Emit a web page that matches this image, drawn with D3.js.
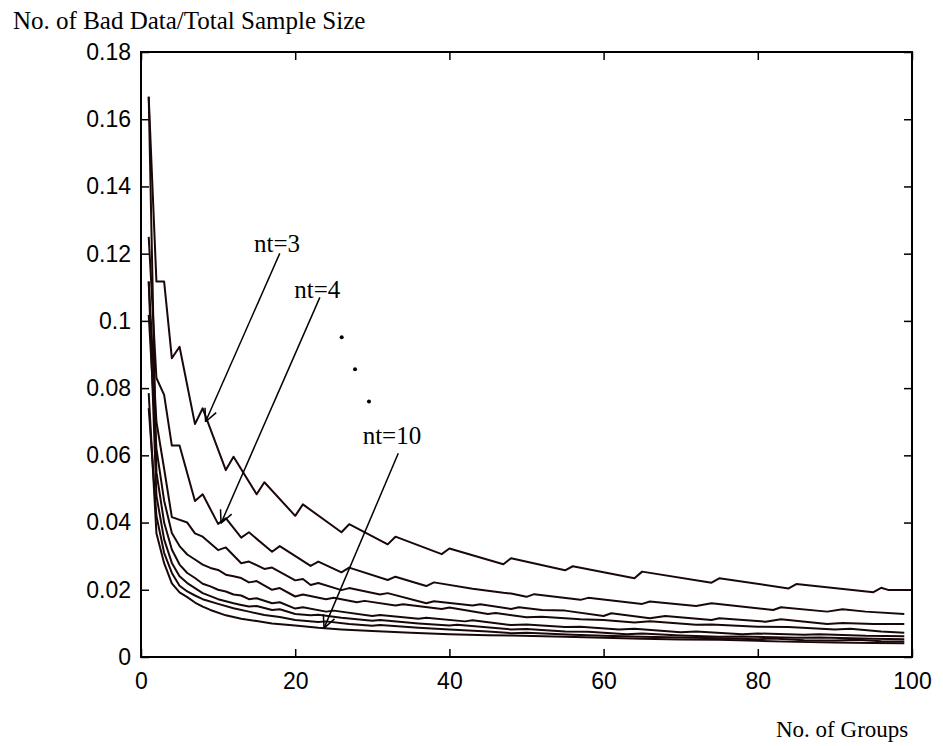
<!DOCTYPE html>
<html>
<head>
<meta charset="utf-8">
<script src="https://cdnjs.cloudflare.com/ajax/libs/d3/7.8.5/d3.min.js"></script>
<style>
  body { margin: 0; background: #fff; }
  .axis text { font-family: "Liberation Sans", Arial, sans-serif; font-size: 23px; fill: #000; }
  .axis line { stroke: #000; stroke-width: 1.5; }
  .axis path { display: none; }
  .note { font-family: "Liberation Serif", "Times New Roman", serif; font-size: 25px; fill: #000; }
</style>
</head>
<body>
<svg id="chart" width="943" height="746"></svg>
<script>
// [group count, bad data / total sample size], one list per nt
var nt3 = [[1,.1667],[2,.1117],[3,.1117],[4,.0889],[5,.0923],[7,.0693],[8,.0740],[11,.0556],[12,.0596],
  [15,.0484],[16,.0520],[20,.0420],[21,.0454],[26,.0371],[27,.0395],[32,.0335],[33,.0358],[39,.0306],
  [40,.0323],[47,.0276],[48,.0294],[55,.0258],[56,.0270],[64,.0234],[65,.0254],[74,.0221],[75,.0234],
  [84,.0204],[85,.0217],[95,.0193],[96,.0206],[97,.0199],[100,.0199]];
var nt4 = [[1,.1250],[2,.0830],[3,.0780],[4,.0629],[5,.0629],[7,.0464],[8,.0484],[10,.0396],[11,.0413],
  [13,.0355],[14,.0371],[17,.0313],[18,.0330],[22,.0271],[23,.0284],[26,.0252],[27,.0266],[32,.0229],
  [33,.0239],[37,.0211],[38,.0222],[43,.0203],[47,.0191],[48,.0189],[50,.0179],[51,.0187],[57,.0170],
  [58,.0176],[65,.0158],[66,.0165],[72,.0152],[74,.0160],[82,.0140],[83,.0148],[89,.0135],[91,.0142],
  [94,.0135],[99,.0128]];
var nt5 = [[1,.1117],[2,.0700],[3,.0560],[4,.0416],[6,.0400],[7,.0368],[8,.0358],[10,.0318],[11,.0326],
  [13,.0279],[14,.0284],[16,.0262],[17,.0266],[20,.0228],[21,.0232],[22,.0214],[23,.0220],[26,.0199],
  [27,.0205],[31,.0186],[32,.0190],[37,.0160],[38,.0166],[43,.0153],[44,.0157],[48,.0143],[49,.0148],
  [52,.0140],[55,.0138],[60,.0122],[61,.0130],[66,.0115],[68,.0122],[74,.0110],[75,.0115],[81,.0105],
  [83,.0112],[89,.0098],[91,.0101],[95,.0098],[99,.0098]];
var nt6 = [[1,.1018],[2,.0620],[3,.0465],[4,.0369],[5,.0330],[6,.0305],[7,.0290],[8,.0275],[9,.0265],
  [10,.0259],[11,.0245],[12,.0240],[13,.0235],[14,.0222],[15,.0226],[17,.0200],[18,.0205],[20,.0180],
  [21,.0186],[24,.0172],[25,.0176],[28,.0163],[29,.0167],[33,.0153],[34,.0157],[39,.0143],[40,.0147],
  [45,.0128],[46,.0131],[50,.0118],[52,.0120],[57,.0112],[60,.0110],[64,.0103],[66,.0106],[72,.0096],
  [74,.0097],[80,.0090],[84,.0089],[90,.0082],[92,.0084],[96,.0076],[99,.0072]];
var nt7 = [[1,.1667],[2,.0550],[3,.0400],[4,.0320],[5,.0275],[6,.0250],[7,.0235],[8,.0218],[9,.0210],
  [10,.0200],[11,.0195],[12,.0186],[13,.0183],[14,.0172],[15,.0175],[17,.0160],[18,.0163],[20,.0144],
  [21,.0148],[24,.0135],[25,.0138],[30,.0122],[31,.0125],[36,.0114],[37,.0117],[42,.0106],[43,.0109],
  [48,.0095],[50,.0097],[55,.0089],[57,.0090],[62,.0082],[64,.0084],[70,.0074],[72,.0076],[78,.0068],
  [80,.0070],[86,.0066],[88,.0068],[94,.0063],[99,.0062]];
var nt8 = [[1,.1117],[2,.0480],[3,.0350],[4,.0280],[5,.0240],[6,.0220],[7,.0205],[8,.0190],[10,.0172],
  [12,.0160],[13,.0155],[14,.0150],[15,.0152],[17,.0140],[18,.0142],[20,.0128],[22,.0124],[23,.0126],
  [26,.0117],[30,.0108],[31,.0110],[36,.0100],[40,.0094],[41,.0096],[48,.0082],[50,.0083],[55,.0076],
  [58,.0075],[63,.0068],[65,.0070],[70,.0064],[75,.0060],[78,.0061],[85,.0057],[88,.0058],[95,.0054],
  [99,.0053]];
var nt9 = [[1,.0740],[2,.0420],[3,.0310],[4,.0250],[5,.0212],[6,.0195],[7,.0183],[8,.0172],[10,.0158],
  [12,.0145],[14,.0135],[16,.0125],[18,.0119],[20,.0110],[23,.0104],[24,.0106],[27,.0098],[30,.0093],
  [31,.0095],[36,.0087],[40,.0082],[45,.0076],[48,.0071],[50,.0072],[56,.0066],[60,.0063],[65,.0060],
  [70,.0058],[75,.0056],[80,.0053],[82,.0055],[86,.0050],[90,.0049],[93,.0051],[96,.0047],[99,.0046]];
var nt10 = [[1,.0785],[2,.0368],[3,.0279],[4,.0219],[5,.0192],[6,.0178],[7,.0162],[8,.0150],[9,.0140],
  [11,.0124],[13,.0114],[15,.0107],[17,.0100],[20,.0094],[23,.0087],[26,.0082],[30,.0077],[35,.0072],
  [40,.0068],[45,.0065],[48,.0064],[55,.0060],[60,.0057],[65,.0054],[70,.0052],[75,.0051],[80,.0048],
  [85,.0045],[90,.0043],[95,.0042],[99,.0041]];

var series = [nt3, nt4, nt5, nt6, nt7, nt8, nt9, nt10];

var xTicks = [0, 20, 40, 60, 80, 100];
var yTicks = [0, 0.02, 0.04, 0.06, 0.08, 0.1, 0.12, 0.14, 0.16, 0.18];
var yTickLabels = ['0', '0.02', '0.04', '0.06', '0.08', '0.1', '0.12', '0.14', '0.16', '0.18'];

// labels with arrows: text anchor, arrow start, arrow tip (data coords)
var notes = [
  {text: 'nt=3', at: [14.66, .1204], from: [18.0, .1201], to: [8.37, .0700]},
  {text: 'nt=4', at: [19.88, .1067], from: [23.2, .1070], to: [10.38, .0398]},
  {text: 'nt=10', at: [28.75, .0634], from: [33.37, .0606], to: [23.74, .0086]}
];
var dots = [[26.03, .0951], [27.76, .0856], [29.57, .0760]];

InitChart();

function InitChart() {
  var viz = d3.select('#chart'),
    WIDTH = 943,
    HEIGHT = 746,
    MARGINS = {top: 52, right: 31, bottom: 89, left: 141},
    xRange = d3.scaleLinear().range([MARGINS.left, WIDTH - MARGINS.right]).domain([0, 100]),
    yRange = d3.scaleLinear().range([HEIGHT - MARGINS.bottom, MARGINS.top]).domain([0, 0.18]);

  var x0 = MARGINS.left, x1 = WIDTH - MARGINS.right,
    y0 = HEIGHT - MARGINS.bottom, y1 = MARGINS.top;

  // ticks point inwards on all four sides
  viz.append('g')
    .attr('class', 'x axis')
    .attr('transform', 'translate(0,' + y0 + ')')
    .call(d3.axisBottom(xRange).tickValues(xTicks).tickSize(-8).tickPadding(16).tickFormat(d3.format('d')));

  viz.append('g')
    .attr('class', 'x axis')
    .attr('transform', 'translate(0,' + y1 + ')')
    .call(d3.axisTop(xRange).tickValues(xTicks).tickSize(-8).tickFormat(''));

  viz.append('g')
    .attr('class', 'y axis')
    .attr('transform', 'translate(' + x0 + ',0)')
    .call(d3.axisLeft(yRange).tickValues(yTicks).tickSize(-8).tickPadding(10)
      .tickFormat(function(d, i) { return yTickLabels[i]; }));

  viz.append('g')
    .attr('class', 'y axis')
    .attr('transform', 'translate(' + x1 + ',0)')
    .call(d3.axisRight(yRange).tickValues(yTicks).tickSize(-8).tickFormat(''));

  var line = d3.line()
    .x(function(d) { return xRange(d[0]); })
    .y(function(d) { return yRange(d[1]); });

  viz.selectAll('path.curve')
    .data(series)
    .enter()
    .append('path')
    .attr('class', 'curve')
    .attr('d', line)
    .attr('fill', 'none')
    .attr('stroke', '#1a0808')
    .attr('stroke-width', 2)
    .attr('stroke-linejoin', 'round');

  viz.append('rect')
    .attr('x', x0)
    .attr('y', y1)
    .attr('width', x1 - x0)
    .attr('height', y0 - y1)
    .attr('fill', 'none')
    .attr('stroke', '#000')
    .attr('stroke-width', 2);

  // annotations
  notes.forEach(function(n) {
    var fx = xRange(n.from[0]), fy = yRange(n.from[1]),
      tx = xRange(n.to[0]), ty = yRange(n.to[1]),
      ang = Math.atan2(fy - ty, fx - tx),
      len = 14, spread = 0.45;

    viz.append('text')
      .attr('class', 'note')
      .attr('x', xRange(n.at[0]))
      .attr('y', yRange(n.at[1]))
      .text(n.text);

    viz.append('line')
      .attr('x1', fx).attr('y1', fy)
      .attr('x2', tx).attr('y2', ty)
      .attr('stroke', '#000')
      .attr('stroke-width', 1.5);

    [ang - spread, ang + spread].forEach(function(a) {
      viz.append('line')
        .attr('x1', tx).attr('y1', ty)
        .attr('x2', tx + len * Math.cos(a))
        .attr('y2', ty + len * Math.sin(a))
        .attr('stroke', '#000')
        .attr('stroke-width', 1.5);
    });
  });

  viz.selectAll('circle.dot')
    .data(dots)
    .enter()
    .append('circle')
    .attr('class', 'dot')
    .attr('cx', function(d) { return xRange(d[0]); })
    .attr('cy', function(d) { return yRange(d[1]); })
    .attr('r', 2)
    .attr('fill', '#000');

  viz.append('text')
    .attr('class', 'note')
    .attr('x', 13)
    .attr('y', 29)
    .text('No. of Bad Data/Total Sample Size');

  viz.append('text')
    .attr('class', 'note')
    .attr('x', 776)
    .attr('y', 737)
    .style('font-size', '23px')
    .text('No. of Groups');
}
</script>
</body>
</html>
